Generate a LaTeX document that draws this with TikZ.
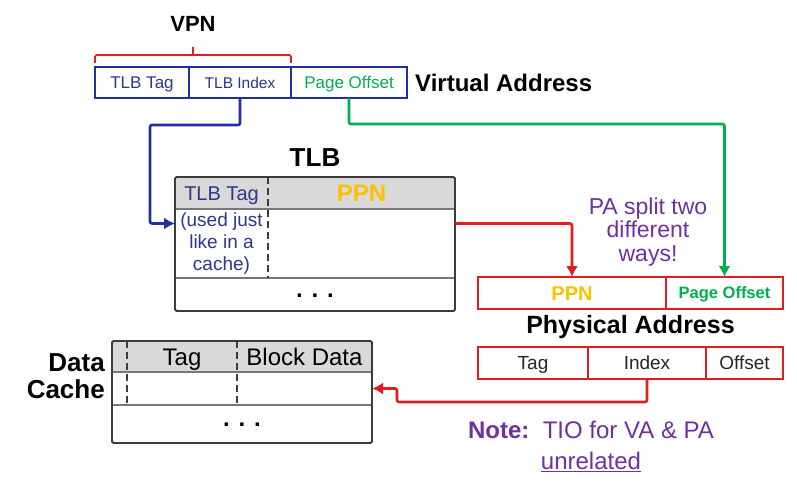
\documentclass[tikz,border=0pt]{standalone}
\usepackage{fontspec}
\setmainfont{Liberation Sans}
\usetikzlibrary{arrows.meta,calc}
\usetikzlibrary{positioning}

\newcommand{\fsz}[2]{\fontsize{#1}{#2}\selectfont}

\tikzset{
	vafield/.style={draw=vablue, line width=1.6pt, minimum height=31pt, inner sep=0pt, outer sep=0pt},
	pafield/.style={draw=pared, line width=1.6pt, minimum height=32pt, inner sep=0pt, outer sep=0pt},
	cell/.style={inner sep=0pt, outer sep=0pt},
	capmid/.style={text height=#1, text depth=0pt},
	frame/.style={draw=framegray, line width=1.8pt, rounded corners=1.5pt},
	rowline/.style={draw=rowgray, line width=1.4pt},
	colline/.style={draw=framegray, line width=1.6pt, dash pattern=on 7pt off 4pt},
	conn/.style={line width=2.6pt, rounded corners=2pt, -{Latex[length=11pt,width=12pt]}},
}

\begin{document}
\begin{tikzpicture}[x=1pt, y=-1pt]

	\definecolor{vablue}{RGB}{32,48,160}
	\definecolor{vatext}{RGB}{45,55,140}
	\definecolor{vagreen}{RGB}{0,176,80}
	\definecolor{pared}{RGB}{225,30,30}
	\definecolor{ppngold}{RGB}{255,192,0}
	\definecolor{notepurple}{RGB}{112,48,160}
	\definecolor{hdrgray}{RGB}{217,217,217}
	\definecolor{framegray}{RGB}{60,60,60}
	\definecolor{rowgray}{RGB}{120,120,120}

	\useasboundingbox (0,0) rectangle (797,487);

	% virtual address
	\node(vtag) [vafield, capmid=12.2pt, minimum width=94pt, text=vatext, font=\fsz{17}{20}] at (142,82.5) {TLB Tag};
	\node(vidx) [vafield, capmid=11.2pt, minimum width=102pt, right=0pt of vtag, text=vatext, font=\fsz{15.5}{18}] {TLB Index};
	\node(voff) [vafield, capmid=12.2pt, minimum width=116pt, right=0pt of vidx, text=vagreen, font=\fsz{17}{20}] {Page Offset};
	\node(vaddr) [right=8pt of voff, inner sep=0pt, font=\bfseries\fsz{24}{28}] {Virtual Address};

	\coordinate (vpntip) at ($(vtag.north west)!0.5!(vidx.north east)$);
	\draw[pared, line width=1.6pt, rounded corners=1.5pt] ([yshift=4pt]vtag.north west) -- ([yshift=12pt]vtag.north west) -- ([yshift=12pt]vidx.north east) -- ([yshift=4pt]vidx.north east);
	\draw[pared, line width=1.6pt] ([yshift=12pt]vpntip) -- ([yshift=20pt]vpntip);
	\node(vpn) [above=35pt of vpntip, inner sep=0pt, font=\bfseries\fsz{22}{26}] {VPN};

	% TLB
	\node(tlbtag) [cell, capmid=14.4pt, fill=hdrgray, minimum width=93pt, minimum height=32pt, text=vatext, font=\fsz{20}{24}] at (221.5,193) {TLB Tag};
	\node(tlbppn) [cell, capmid=17.3pt, fill=hdrgray, minimum width=187pt, minimum height=32pt, right=0pt of tlbtag, text=ppngold, font=\bfseries\fsz{24}{28}] {PPN};
	\node(tlbuse) [cell, minimum width=93pt, minimum height=69pt, below=0pt of tlbtag, align=center, text=vatext, font=\fsz{19}{22}] {(used just\\like in a\\cache)};
	\node(tlbent) [cell, minimum width=187pt, minimum height=69pt, right=0pt of tlbuse] {};
	\node(tlbdots) [cell, minimum width=280pt, minimum height=33pt, anchor=north west, font=\bfseries\fsz{24}{28}] at (tlbuse.south west) {\raisebox{-6pt}{. . .}};
	\node(tlbtitle) [above=10pt of $(tlbtag.north west)!0.5!(tlbppn.north east)$, inner sep=0pt, font=\bfseries\fsz{26}{30}] {TLB};

	\draw[rowline] (tlbtag.south west) -- (tlbppn.south east);
	\draw[rowline] (tlbuse.south west) -- (tlbent.south east);
	\draw[colline] (tlbtag.north east) -- (tlbuse.south east);
	\draw[frame] (tlbtag.north west) rectangle (tlbdots.south east);

	% physical address
	\node(pppn) [pafield, capmid=14.4pt, minimum width=188pt, text=ppngold, font=\bfseries\fsz{20}{24}] at (572,293) {PPN};
	\node(poff) [pafield, capmid=11.9pt, minimum width=117pt, right=0pt of pppn, text=vagreen, font=\bfseries\fsz{16.5}{20}] {Page Offset};
	\node(paddr) [below=6pt of $(pppn.south west)!0.5!(poff.south east)$, inner sep=0pt, font=\bfseries\fsz{25}{30}] {Physical Address};

	\node(ptag) [pafield, capmid=13.7pt, minimum width=110pt, text=black!85, font=\fsz{19}{23}] at (533,363) {Tag};
	\node(pidx) [pafield, capmid=13.7pt, minimum width=118pt, right=0pt of ptag, text=black!85, font=\fsz{19}{23}] {Index};
	\node(poffs) [pafield, capmid=13.7pt, minimum width=77pt, right=0pt of pidx, text=black!85, font=\fsz{19}{23}] {Offset};

	\node(split) [align=center, text=notepurple, font=\fsz{23}{23.5}] at (648,232) {PA split two\\different\\ways!};

	% data cache
	\node(cvalid) [cell, fill=hdrgray, minimum width=15pt, minimum height=31pt] at (119.5,356.5) {};
	\node(ctag) [cell, capmid=17.3pt, fill=hdrgray, minimum width=110pt, minimum height=31pt, right=0pt of cvalid, font=\fsz{24}{28}] {Tag};
	\node(cdata) [cell, capmid=17.3pt, fill=hdrgray, minimum width=135pt, minimum height=31pt, right=0pt of ctag, font=\fsz{24}{28}] {Block Data};
	\node(cline) [cell, minimum width=260pt, minimum height=33pt, anchor=north west] at (cvalid.south west) {};
	\node(cdots) [cell, minimum width=260pt, minimum height=38pt, anchor=north west, font=\bfseries\fsz{24}{28}] at (cline.south west) {\raisebox{-4pt}{. . .}};
	\node(ctitle) [left=7pt of cline.north west, yshift=-4.5pt, inner sep=0pt, align=right, font=\bfseries\fsz{26}{27}] {Data\\Cache};

	\draw[rowline] (cvalid.south west) -- (cdata.south east);
	\draw[rowline] (cline.south west) -- (cline.south east);
	\draw[colline] (cvalid.north east) -- (cvalid.north east |- cline.south);
	\draw[colline] (ctag.north east) -- (ctag.north east |- cline.south);
	\draw[frame] (cvalid.north west) rectangle (cdots.south east);

	\node(note) [align=center, text=notepurple, font=\fsz{24}{31}] at (591,446) {\textbf{Note:}\ \ TIO for VA \& PA\\\underline{unrelated}};

	% connectors
	\coordinate (bluebend) at (150,125);
	\coordinate (tlbin) at ([yshift=20pt]tlbuse.west);
	\coordinate (tlbout) at ([yshift=20pt]tlbent.east);
	\coordinate (greenbend) at (poff.north |- 0,124);
	\coordinate (idxlow) at (397,402);

	\draw[conn, vablue] (vidx.south) |- (bluebend) |- (tlbin);
	\draw[conn, vagreen] (voff.south) |- (greenbend) -- (poff.north);
	\draw[conn, pared] (tlbout) -| (pppn.north);
	\draw[conn, pared] (pidx.south) |- (idxlow) |- (cline.east);

\end{tikzpicture}
\end{document}
